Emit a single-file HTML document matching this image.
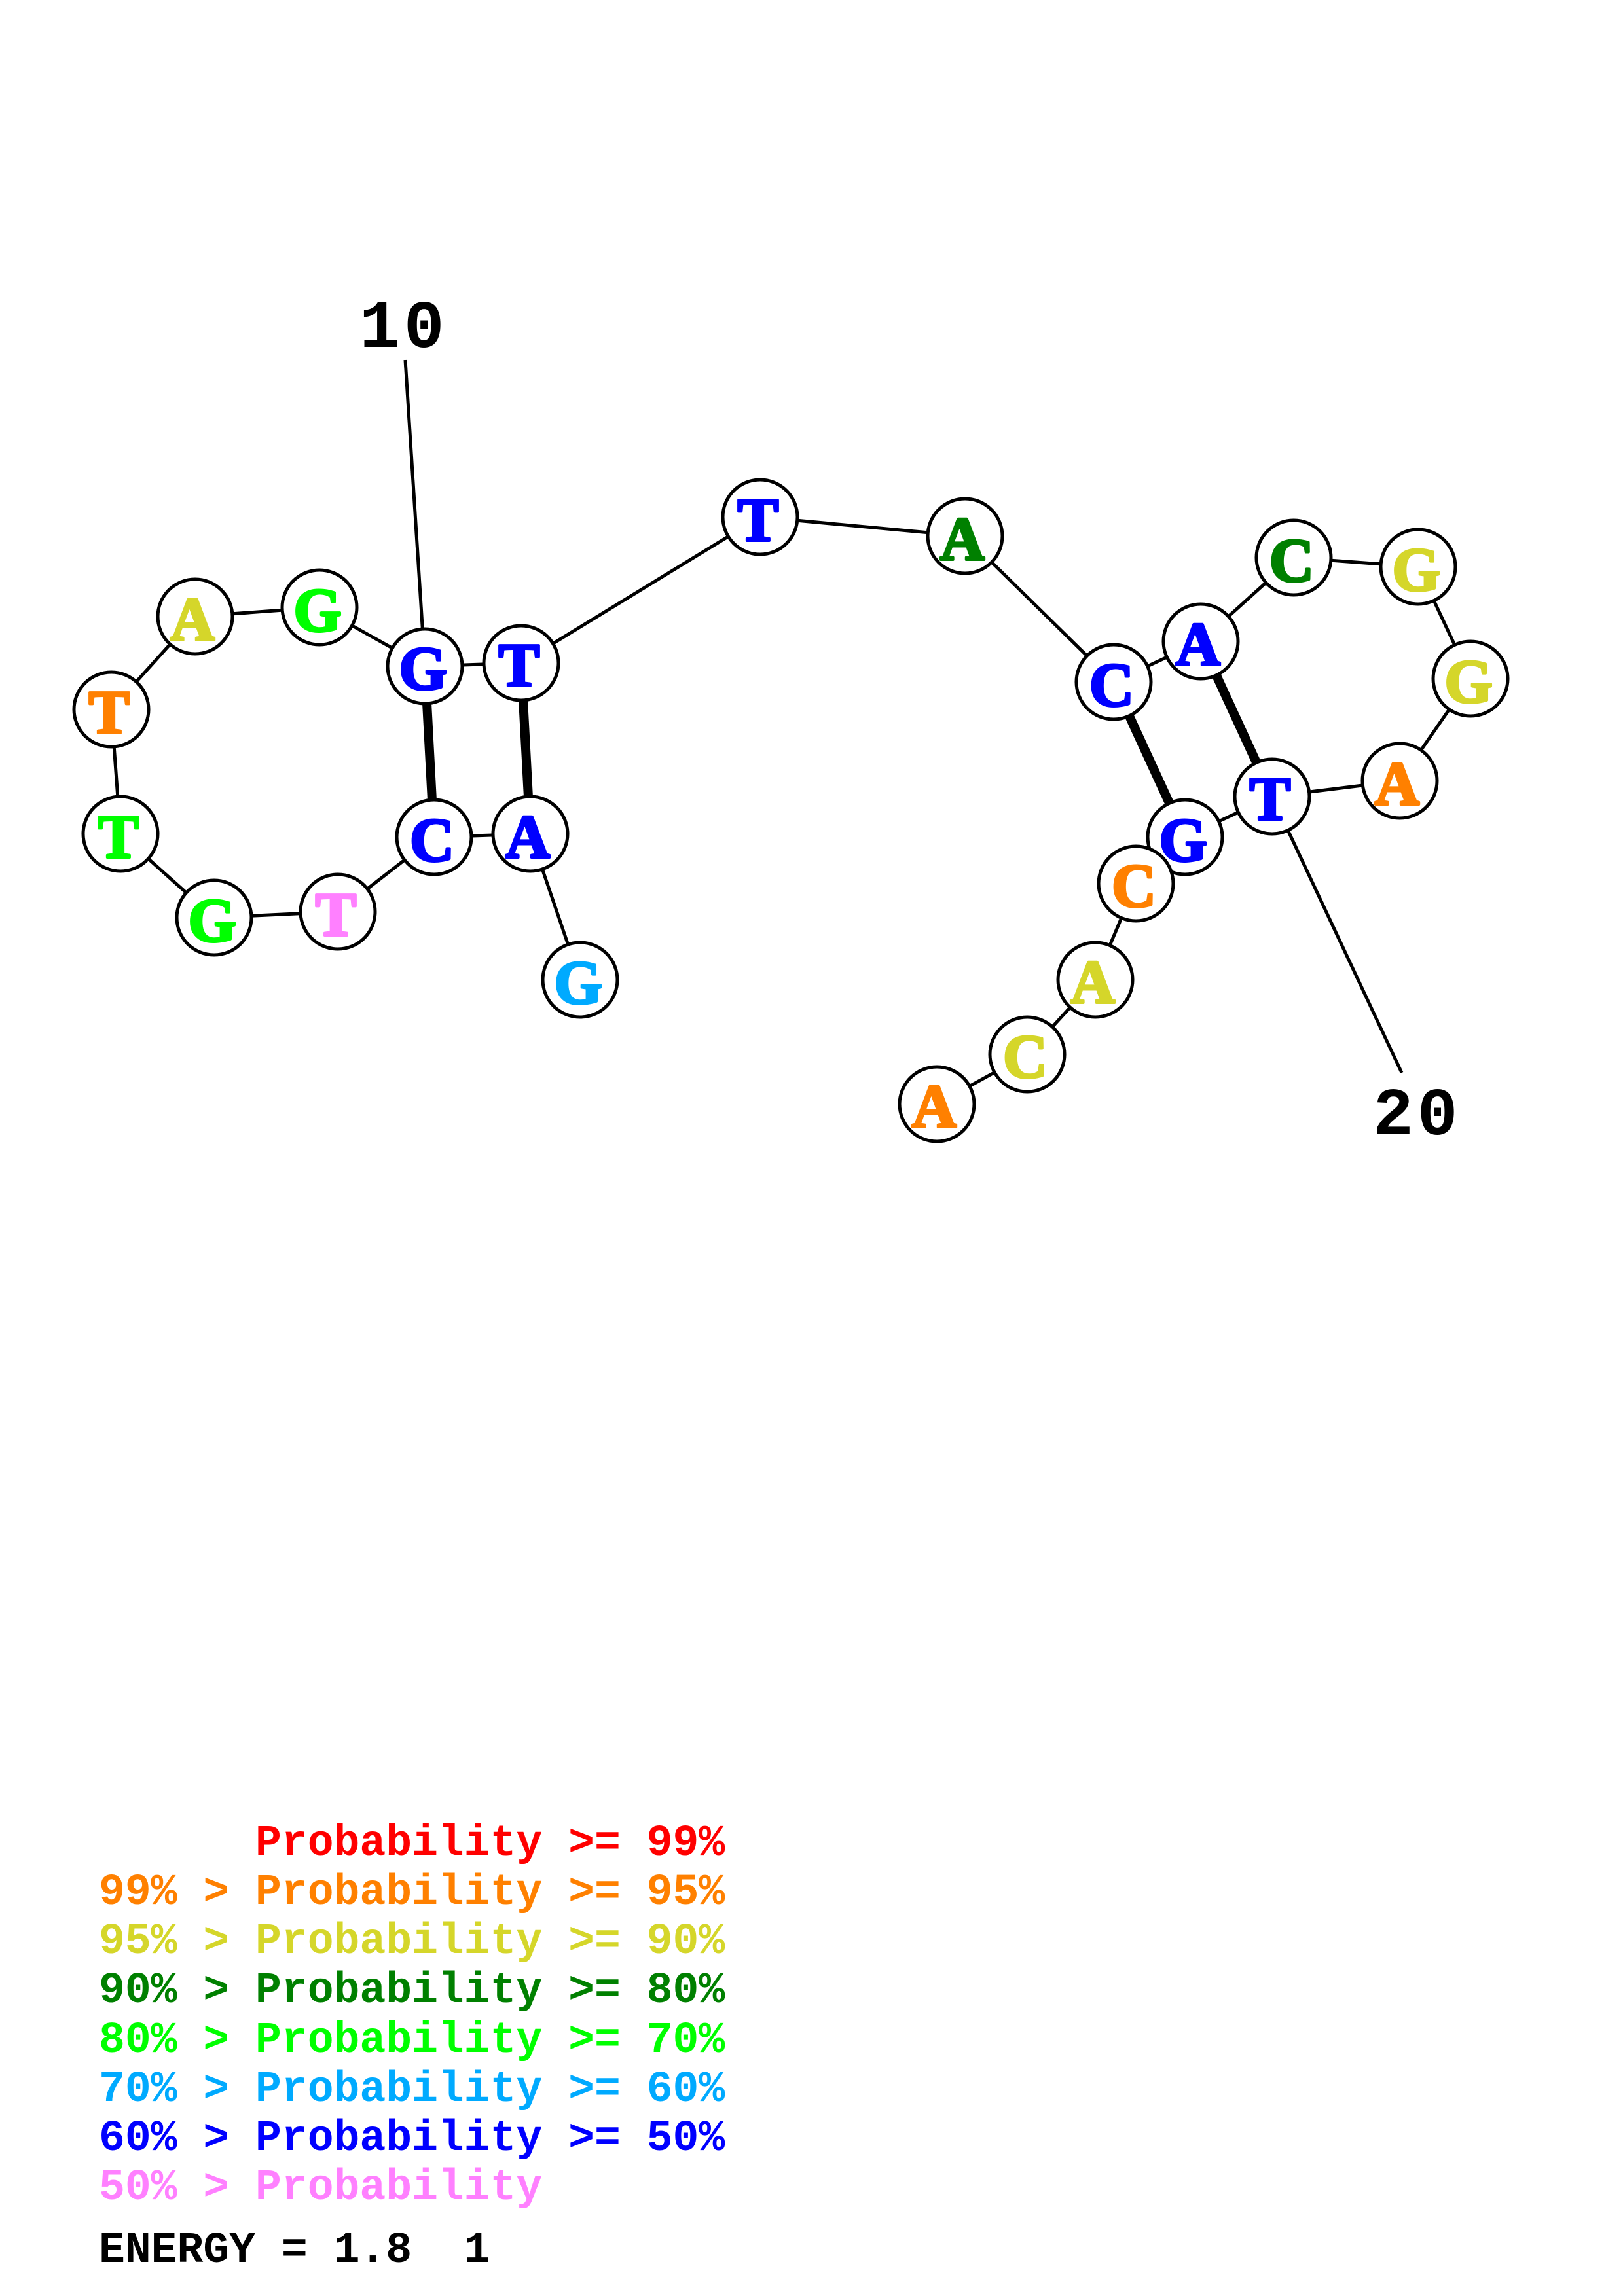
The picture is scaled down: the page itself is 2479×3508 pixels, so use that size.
<!DOCTYPE html>
<html><head><meta charset="utf-8"><style>
html,body{margin:0;padding:0;background:#fff}
svg{display:block}
.n circle{fill:#fff;stroke:#000;stroke-width:5}
.n text{font:bold 94px "Liberation Serif",serif;text-anchor:middle;stroke-width:4;stroke-linejoin:round;transform:translateY(-2px)}
.l text{font:bold 66.4px "Liberation Mono",monospace;white-space:pre}
</style></head><body>
<svg xmlns="http://www.w3.org/2000/svg" width="2479" height="3508" viewBox="0 0 2479 3508">
<rect width="2479" height="3508" fill="#fff"/>
<g stroke="#000" stroke-width="5" fill="none">
<polyline points="886,1497 810,1274 663,1279 516,1393 327,1402 184,1274 170,1084 298,942 488,928 649,1018 796,1013 1161,790 1474,819 1701,1042 1834,980 1976,852 2166,866 2246,1037 2138,1193 1943,1217 1810,1279 1735,1350 1673,1497 1569,1611 1431,1687"/>
<line x1="619" y1="550" x2="649" y2="1018"/>
<line x1="2141" y1="1639" x2="1943" y2="1217"/>
</g>
<g stroke="#000" stroke-width="14">
<line x1="649" y1="1018" x2="663" y2="1279"/>
<line x1="796" y1="1013" x2="810" y2="1274"/>
<line x1="1701" y1="1042" x2="1810" y2="1279"/>
<line x1="1834" y1="980" x2="1943" y2="1217"/>
</g>
<g class="n">
<g><circle cx="649" cy="1018" r="57"/><text x="646" y="1055" fill="#0000ff" stroke="#0000ff">G</text></g>
<g><circle cx="796" cy="1013" r="57"/><text x="793" y="1050" fill="#0000ff" stroke="#0000ff">T</text></g>
<g><circle cx="663" cy="1279" r="57"/><text x="660" y="1317" fill="#0000ff" stroke="#0000ff">C</text></g>
<g><circle cx="810" cy="1274" r="57"/><text x="806" y="1312" fill="#0000ff" stroke="#0000ff">A</text></g>
<g><circle cx="298" cy="942" r="57"/><text x="294" y="980" fill="#d5d62a" stroke="#d5d62a">A</text></g>
<g><circle cx="488" cy="928" r="57"/><text x="485" y="966" fill="#00ff00" stroke="#00ff00">G</text></g>
<g><circle cx="170" cy="1084" r="57"/><text x="167" y="1122" fill="#ff8000" stroke="#ff8000">T</text></g>
<g><circle cx="184" cy="1274" r="57"/><text x="181" y="1312" fill="#00ff00" stroke="#00ff00">T</text></g>
<g><circle cx="327" cy="1402" r="57"/><text x="324" y="1440" fill="#00ff00" stroke="#00ff00">G</text></g>
<g><circle cx="516" cy="1393" r="57"/><text x="513" y="1431" fill="#ff80ff" stroke="#ff80ff">T</text></g>
<g><circle cx="886" cy="1497" r="57"/><text x="883" y="1535" fill="#00aaff" stroke="#00aaff">G</text></g>
<g><circle cx="1161" cy="790" r="57"/><text x="1158" y="828" fill="#0000ff" stroke="#0000ff">T</text></g>
<g><circle cx="1474" cy="819" r="57"/><text x="1470" y="857" fill="#008000" stroke="#008000">A</text></g>
<g><circle cx="1976" cy="852" r="57"/><text x="1973" y="890" fill="#008000" stroke="#008000">C</text></g>
<g><circle cx="2166" cy="866" r="57"/><text x="2163" y="904" fill="#d5d62a" stroke="#d5d62a">G</text></g>
<g><circle cx="2246" cy="1037" r="57"/><text x="2243" y="1075" fill="#d5d62a" stroke="#d5d62a">G</text></g>
<g><circle cx="2138" cy="1193" r="57"/><text x="2134" y="1231" fill="#ff8000" stroke="#ff8000">A</text></g>
<g><circle cx="1834" cy="980" r="57"/><text x="1830" y="1018" fill="#0000ff" stroke="#0000ff">A</text></g>
<g><circle cx="1701" cy="1042" r="57"/><text x="1698" y="1080" fill="#0000ff" stroke="#0000ff">C</text></g>
<g><circle cx="1943" cy="1217" r="57"/><text x="1940" y="1254" fill="#0000ff" stroke="#0000ff">T</text></g>
<g><circle cx="1810" cy="1279" r="57"/><text x="1807" y="1317" fill="#0000ff" stroke="#0000ff">G</text></g>
<g><circle cx="1735" cy="1350" r="57"/><text x="1732" y="1387" fill="#ff8000" stroke="#ff8000">C</text></g>
<g><circle cx="1673" cy="1497" r="57"/><text x="1669" y="1534" fill="#d5d62a" stroke="#d5d62a">A</text></g>
<g><circle cx="1569" cy="1611" r="57"/><text x="1566" y="1648" fill="#d5d62a" stroke="#d5d62a">C</text></g>
<g><circle cx="1431" cy="1687" r="57"/><text x="1427" y="1724" fill="#ff8000" stroke="#ff8000">A</text></g>
</g>
<g font-family="'Liberation Mono',monospace" font-weight="bold" font-size="103" fill="#000" letter-spacing="6">
<text x="549" y="530">10</text>
<text x="2097" y="1733">20</text>
</g>
<g class="l">
<text x="151" y="2834" fill="#ff0000" xml:space="preserve">      Probability &gt;= 99%</text>
<text x="151" y="2909" fill="#ff8000" xml:space="preserve">99% &gt; Probability &gt;= 95%</text>
<text x="151" y="2984" fill="#d5d62a" xml:space="preserve">95% &gt; Probability &gt;= 90%</text>
<text x="151" y="3059" fill="#008000" xml:space="preserve">90% &gt; Probability &gt;= 80%</text>
<text x="151" y="3135" fill="#00ff00" xml:space="preserve">80% &gt; Probability &gt;= 70%</text>
<text x="151" y="3210" fill="#00aaff" xml:space="preserve">70% &gt; Probability &gt;= 60%</text>
<text x="151" y="3285" fill="#0000ff" xml:space="preserve">60% &gt; Probability &gt;= 50%</text>
<text x="151" y="3360" fill="#ff80ff" xml:space="preserve">50% &gt; Probability</text>
<text x="151" y="3456" fill="#000" xml:space="preserve">ENERGY = 1.8  1</text>
</g>
</svg>
</body></html>
